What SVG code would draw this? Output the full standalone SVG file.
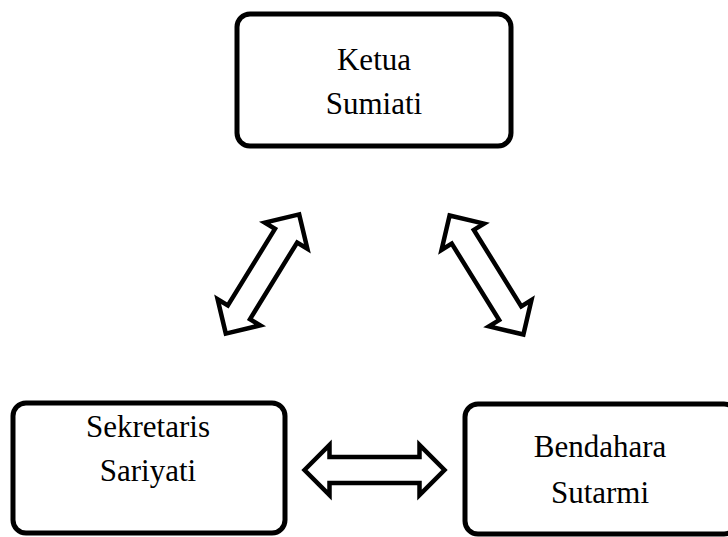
<svg xmlns="http://www.w3.org/2000/svg" width="728" height="537" viewBox="0 0 728 537">
  <style>
    .box { fill: #ffffff; stroke: #000000; stroke-width: 5; }
    .lbl { font-family: "Liberation Serif", "Times New Roman", serif; font-size: 31px; fill: #000000; text-anchor: middle; }
    .arr { fill: #ffffff; stroke: #000000; stroke-width: 4.5; stroke-linejoin: miter; stroke-miterlimit: 4; }
  </style>
  <defs>
    <path id="dbl" d="M -70,0 L -45,-25 L -45,-13 L 45,-13 L 45,-25 L 70,0 L 45,25 L 45,13 L -45,13 L -45,25 Z"/>
  </defs>
  <rect x="0" y="0" width="728" height="537" fill="#ffffff"/>
  <g id="ketua">
    <rect class="box" x="237" y="14" width="274" height="132" rx="13" ry="13"/>
    <text class="lbl" x="374" y="70">Ketua</text>
    <text class="lbl" x="374" y="114">Sumiati</text>
  </g>
  <g id="sekretaris">
    <rect class="box" x="13" y="403" width="272" height="130" rx="13" ry="13"/>
    <text class="lbl" x="148" y="437">Sekretaris</text>
    <text class="lbl" x="148" y="481">Sariyati</text>
  </g>
  <g id="bendahara">
    <rect class="box" x="465" y="404" width="272" height="130" rx="13" ry="13"/>
    <text class="lbl" x="600" y="457">Bendahara</text>
    <text class="lbl" x="600" y="503">Sutarmi</text>
  </g>
  <g id="connectors">
    <use href="#dbl" class="arr" transform="translate(262.5,274) rotate(-58.4)"/>
    <use href="#dbl" class="arr" transform="translate(486.5,275) rotate(58.2)"/>
    <use href="#dbl" class="arr" transform="translate(374.5,470)"/>
  </g>
</svg>
